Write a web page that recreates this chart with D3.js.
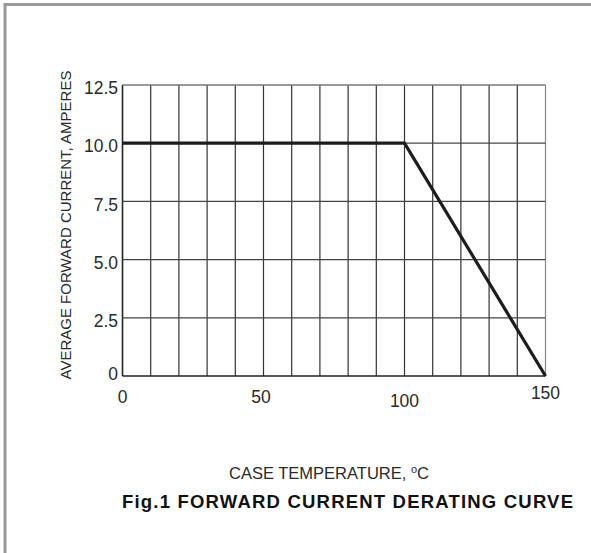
<!DOCTYPE html>
<html>
<head>
<meta charset="utf-8">
<script src="https://cdn.jsdelivr.net/npm/d3@7"></script>
<style>
  html, body { margin: 0; padding: 0; background: #fff; }
  svg { display: block; font-family: "Liberation Sans", Arial, sans-serif; }
</style>
</head>
<body>
<svg id="chart"></svg>
<script>
// derating curve: case temperature (°C) vs average forward current (A)
const caseTemp = [0, 100, 150];
const forwardCurrent = [10, 10, 0];

const xTicks = [0, 50, 100, 150];
const xTickLabels = ['0', '50', '100', '150'];
const yTicks = [0, 2.5, 5, 7.5, 10, 12.5];
const yTickLabels = ['0', '2.5', '5.0', '7.5', '10.0', '12.5'];
const xGrid = d3.range(0, 151, 10);

const xTitle = 'CASE TEMPERATURE, ';
const yTitle = 'AVERAGE FORWARD CURRENT, AMPERES';
const figTitle = 'Fig.1 FORWARD CURRENT DERATING CURVE';

const width = 591;
const height = 553;
const plot = { left: 122.5, right: 545.5, top: 85, bottom: 376 };

const svg = d3.select('#chart').attr('width', width).attr('height', height);

// outer frame (only top and left edges are inside the picture)
svg.append('rect')
    .attr('x', 5).attr('y', 4.5)
    .attr('width', width + 10).attr('height', height + 10)
    .attr('fill', 'none')
    .attr('stroke', '#9a9a9a')
    .attr('stroke-width', 3);

const x = d3.scaleLinear().domain([0, 150]).range([plot.left, plot.right]);
const y = d3.scaleLinear().domain([0, 12.5]).range([plot.bottom, plot.top]);

// grid
const grid = svg.append('g');
grid.selectAll('.vgrid')
    .data(xGrid)
    .enter()
    .append('line')
    .attr('class', 'vgrid')
    .attr('x1', d => x(d)).attr('x2', d => x(d))
    .attr('y1', plot.top).attr('y2', plot.bottom)
    .attr('stroke', d => (d === 0 ? '#222' : d === 150 ? '#888' : '#333'))
    .attr('stroke-width', d => (d === 0 ? 1.6 : 1.2));

grid.selectAll('.hgrid')
    .data(yTicks)
    .enter()
    .append('line')
    .attr('class', 'hgrid')
    .attr('x1', plot.left).attr('x2', plot.right)
    .attr('y1', d => y(d)).attr('y2', d => y(d))
    .attr('stroke', d => (d === 0 ? '#222' : d === 12.5 ? '#777' : '#444'))
    .attr('stroke-width', d => (d === 0 ? 1.6 : 1.3));

// tick labels
svg.append('g')
    .selectAll('text')
    .data(yTicks)
    .enter()
    .append('text')
    .attr('x', plot.left - 4.5)
    .attr('y', d => y(d) + (d === 0 ? -2 : 3))
    .attr('dy', '0.35em')
    .attr('text-anchor', 'end')
    .attr('font-size', 17.5)
    .attr('fill', '#2a2a2a')
    .text((d, i) => yTickLabels[i]);

// the x labels in the source sit at slightly different heights
const xLabelNudge = [0, 0, 4, -4];
svg.append('g')
    .selectAll('text')
    .data(xTicks)
    .enter()
    .append('text')
    .attr('x', d => x(d) - (d === 50 ? 2.5 : 0))
    .attr('y', (d, i) => 397 + xLabelNudge[i])
    .attr('dy', '0.35em')
    .attr('text-anchor', 'middle')
    .attr('font-size', 17.5)
    .attr('fill', '#2a2a2a')
    .text((d, i) => xTickLabels[i]);

// curve
const line = d3.line()
    .x(d => x(d[0]))
    .y(d => y(d[1]));

svg.append('path')
    .datum(d3.zip(caseTemp, forwardCurrent))
    .attr('d', line)
    .attr('fill', 'none')
    .attr('stroke', '#1e1c1c')
    .attr('stroke-width', 3.2)
    .attr('stroke-linejoin', 'miter');

// axis titles
const xt = svg.append('text')
    .attr('x', 329)
    .attr('y', 479)
    .attr('text-anchor', 'middle')
    .attr('font-size', 16.5)
    .attr('fill', '#2a2a2a')
    .text(xTitle);
xt.append('tspan')
    .attr('font-size', 11)
    .attr('dy', -6)
    .text('o');
xt.append('tspan')
    .attr('dy', 6)
    .text('C');

svg.append('text')
    .attr('transform', 'translate(71,225) rotate(-90)')
    .attr('text-anchor', 'middle')
    .attr('font-size', 15)
    .attr('fill', '#2a2a2a')
    .text(yTitle);

svg.append('text')
    .attr('x', 122)
    .attr('y', 507.5)
    .attr('font-size', 18.5)
    .attr('font-weight', 'bold')
    .attr('fill', '#111')
    .attr('textLength', 451)
    .attr('lengthAdjust', 'spacing')
    .text(figTitle);
</script>
</body>
</html>
